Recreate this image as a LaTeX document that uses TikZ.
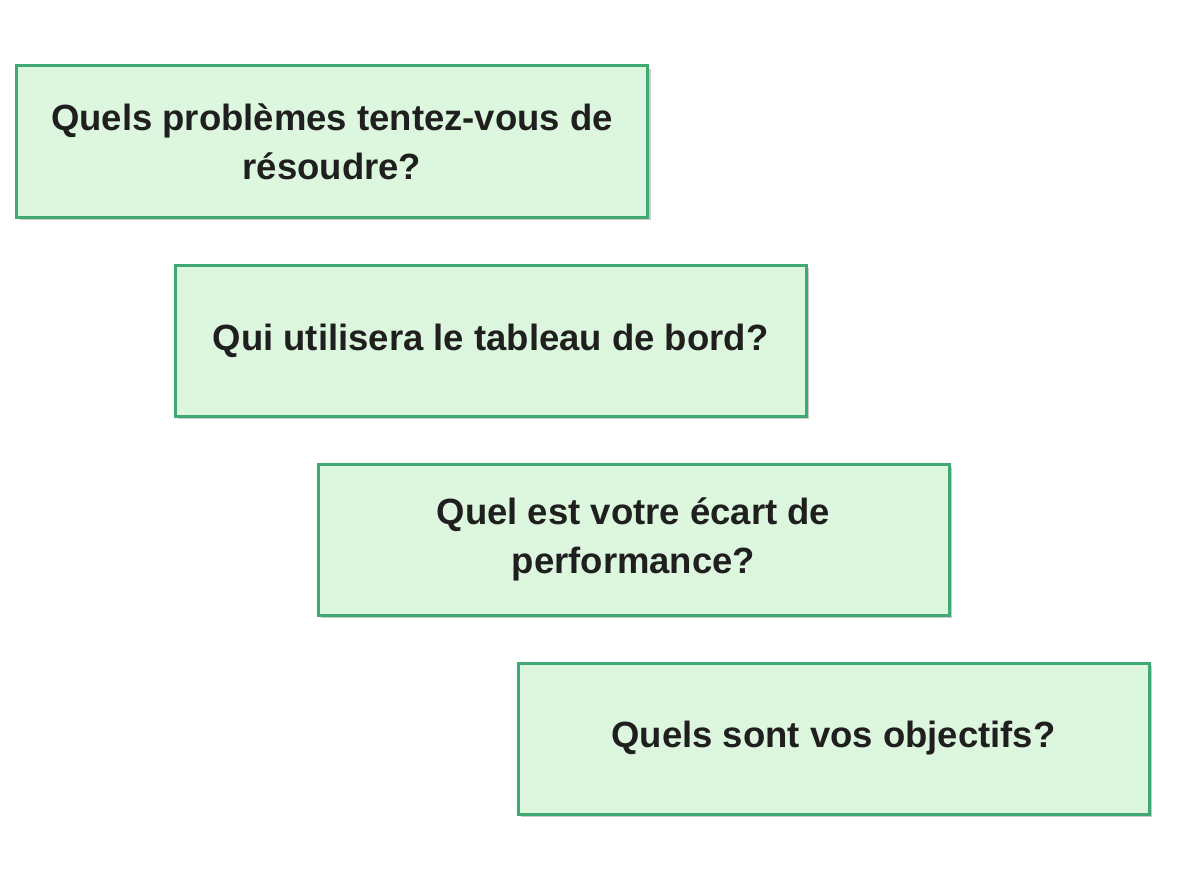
\documentclass[tikz,border=0pt]{standalone}
\usepackage{fontspec}
\setmainfont{Liberation Sans}
\definecolor{boxfill}{HTML}{DDF7DE}
\definecolor{boxline}{HTML}{3FA873}
\definecolor{shadowc}{HTML}{A0A0A0}
\begin{document}
\begin{tikzpicture}[x=1pt,y=-1pt,
  qbox/.style={draw=boxline,line width=3pt,fill=boxfill,minimum width=631pt,minimum height=151pt,
    inner sep=0pt,align=center,font=\fontsize{36.5}{49}\selectfont\bfseries,text=black!88,
    execute at begin node=\setlength{\baselineskip}{49pt}},
  shadowbox/.style={fill=shadowc,opacity=0.55,minimum width=631pt,minimum height=151pt,inner sep=0pt}]
\useasboundingbox (0,0) rectangle (1193,896);
\fill[white] (0,0) rectangle (1193,896);
\foreach \cx/\cy in {332/141.5,490.5/340.5,633.5/539.5,833.5/738.5}
  \node[shadowbox] at (\cx+3,\cy+3) {};
\node[qbox] (a) at (332,141.5) {Quels problèmes tentez-vous de\\résoudre?};
\node[qbox] (b) at (490.5,340.5) {Qui utilisera le tableau de bord?};
\node[qbox] (c) at (633.5,539.5) {Quel est votre écart de\\performance?};
\node[qbox] (d) at (833.5,738.5) {Quels sont vos objectifs?};
\end{tikzpicture}
\end{document}
